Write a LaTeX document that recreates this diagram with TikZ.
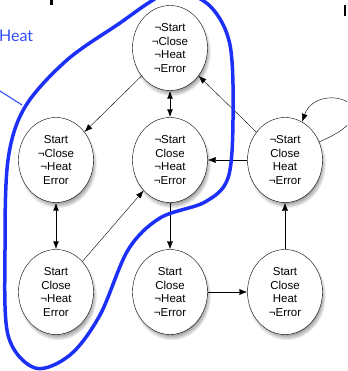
\documentclass[tikz,border=0pt]{standalone}
\usepackage{fontspec}
\setmainfont{Liberation Sans}
\newfontfamily\labelfont{Lato}
\usetikzlibrary{shapes.geometric,shadows,arrows.meta}

\definecolor{setblue}{RGB}{28,48,248}
\definecolor{labelblue}{RGB}{48,78,250}

\tikzset{
	state/.style={ellipse, draw=black, thin, fill=white, inner sep=0pt,
		minimum width=75pt, minimum height=85pt, align=center,
		font=\fontsize{11.5}{13.7}\selectfont,
		circular drop shadow={shadow xshift=1.5pt, shadow yshift=-3.5pt, shadow scale=1.05, opacity=0.8}},
	trans/.style={draw=black, thin, -{Latex[length=8pt,width=6pt]}},
	twoway/.style={draw=black, line width=1pt, {Latex[length=8pt,width=6pt]}-{Latex[length=8pt,width=6pt]}},
	setline/.style={draw=setblue, line width=3.5pt, line join=round},
}

\begin{document}
\begin{tikzpicture}[x=1pt, y=-1pt]
	\clip (0,0) rectangle (347,371);
	% states
	\node[state] (idle) at (170,48) {¬Start\\¬Close\\¬Heat\\¬Error};
	\node[state] (starterr) at (56,160) {Start\\¬Close\\¬Heat\\Error};
	\node[state] (closed) at (170,160) {¬Start\\Close\\¬Heat\\¬Error};
	\node[state] (heating) at (285,160) {¬Start\\Close\\Heat\\¬Error};
	\node[state] (closeerr) at (56,292) {Start\\Close\\¬Heat\\Error};
	\node[state] (startclose) at (170,292) {Start\\Close\\¬Heat\\¬Error};
	\node[state] (startheat) at (285,292) {Start\\Close\\Heat\\¬Error};
	% transitions
	\draw[trans] (idle) -- (starterr);
	\draw[twoway] (idle) -- (closed);
	\draw[trans] (heating) -- (idle);
	\draw[trans] (heating) -- (closed);
	\draw[trans] (heating.28) .. controls (400,108) and (318,78) .. (heating.66);
	\draw[twoway] (starterr) -- (closeerr);
	\draw[trans] (closeerr) -- (closed);
	\draw[trans] (closed) -- (startclose);
	\draw[trans] (startclose) -- (startheat);
	\draw[trans] (startheat) -- (heating);
	% blue outline round the set
	\draw[setline] plot[smooth cycle, tension=0.55] coordinates {
		(120,23) (67,60) (25,107) (8,160) (5,250) (8,335) (35,368) (70,355)
		(100,315) (128,250) (160,218) (205,202) (228,178) (233,120) (230,45)
		(210,6) (175,-10) (150,2)};
	\coordinate (tip) at (22,105);
	\node[anchor=base west, text=labelblue, font=\labelfont\fontsize{16}{18}\selectfont, inner sep=0pt] (heat) at (-1,42) {Heat};
	\draw[draw=labelblue, line width=1.1pt] (0,91) -- (tip);
	% cut-off marks at the top
	\fill[black] (50,0) rectangle (53,5);
	\fill[black] (344,5) rectangle (346,16);
\end{tikzpicture}
\end{document}
